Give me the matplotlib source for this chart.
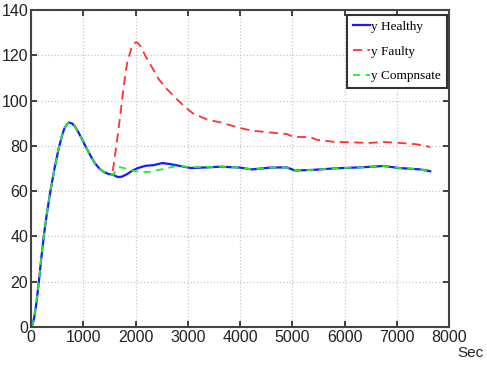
import matplotlib
matplotlib.use("Agg")
import matplotlib.pyplot as plt

# common response before the fault (all three signals identical)
t_common = [0, 30, 60, 100, 150, 200, 250, 300, 371, 450, 531, 600, 637, 690, 733, 790,
            842, 900, 968, 1030, 1096, 1160, 1224, 1300, 1383, 1480, 1575]
y_common = [0, 1, 4, 10, 20, 31, 41, 49.5, 60, 70, 79, 85, 87.6, 89.6, 90.3, 89.8,
            88.5, 86.3, 83.4, 80.4, 77.5, 74.8, 72.3, 70.2, 68.6, 67.6, 67.2]

# healthy response after the fault instant
t_healthy = [1575, 1625, 1670, 1740, 1830, 1936, 2035, 2192, 2350, 2512, 2650,
             2832, 3060, 3380, 3640, 4000, 4225, 4580, 4900, 5050, 5400, 5850,
             6290, 6750, 7050, 7450, 7640]
y_healthy = [67.2, 66.6, 66.2, 66.4, 67.4, 69.0, 70.1, 71.2, 71.5, 72.4, 72.0,
             71.2, 70.2, 70.5, 70.8, 70.4, 69.6, 70.4, 70.5, 69.1, 69.4, 70.1,
             70.5, 71.1, 70.2, 69.6, 68.8]

# faulty response
t_faulty = [1565, 1650, 1715, 1775, 1840, 1923, 1970, 2013, 2050, 2096, 2192, 2320,
            2448, 2608, 2768, 2928, 3100, 3385, 3620, 4000, 4225, 4900, 5020, 5340,
            5470, 5790, 6490, 6750, 7050, 7380, 7640]
y_faulty = [68.9, 82.9, 94.7, 106.4, 116.7, 123.3, 125.2, 125.8, 125.3, 124.0, 119.6,
            114.5, 109.3, 104.9, 101.2, 97.5, 94.3, 91.5, 90.4, 87.9, 86.7, 85.2, 83.9,
            83.9, 82.7, 81.8, 81.3, 81.7, 81.3, 80.7, 79.5]

# compensated response
t_comp = [1575, 1630, 1700, 1808, 1930, 2064, 2256, 2400, 2512, 2768, 3125, 3640,
          4000, 4225, 4580, 4900, 5050, 5400, 5850, 6290, 6750, 7050, 7450, 7640]
y_comp = [67.2, 69.6, 70.6, 70.0, 69.2, 68.5, 68.5, 69.2, 69.7, 71.0, 70.6, 70.8,
          70.4, 69.6, 70.4, 70.5, 69.1, 69.4, 70.1, 70.5, 71.1, 70.2, 69.6, 68.8]

x_ticks = [0, 1000, 2000, 3000, 4000, 5000, 6000, 7000, 8000]
y_ticks = [0, 20, 40, 60, 80, 100, 120, 140]

plt.rcParams["font.family"] = ["Liberation Sans", "DejaVu Sans"]

fig = plt.figure(figsize=(4.87, 3.67), dpi=100)
ax = fig.add_axes([31 / 487, 1 - 327 / 367, 418 / 487, 317 / 367])

ax.plot(t_common + t_healthy[1:], y_common + y_healthy[1:], color="#1a1aff",
        lw=1.6, label="y Healthy")
ax.plot(t_faulty, y_faulty, color="#ff3030", lw=1.3, ls=(0, (5, 3)), label="y Faulty")
ax.plot(t_common + t_comp[1:], y_common + y_comp[1:], color="#22ee22",
        lw=1.3, ls=(0, (4, 3)), label="y Compnsate")

ax.set_xlim(0, 8000)
ax.set_ylim(0, 140)
ax.set_xticks(x_ticks)
ax.set_yticks(y_ticks)
ax.tick_params(direction="in", top=True, right=True, length=4, width=1.2,
               labelsize=11.5, colors="#222222", pad=2)
ax.grid(True, ls=":", color="#c8c8c8", lw=0.9)
for sp in ax.spines.values():
    sp.set_color("#444444")
    sp.set_linewidth(1.5)

leg = ax.legend(loc="upper right", bbox_to_anchor=(0.995, 0.985), fancybox=False,
                prop={"family": "Liberation Serif", "size": 9.5}, handlelength=1.3,
                handletextpad=0.1, labelspacing=0.95, borderpad=0.45,
                borderaxespad=0.0, framealpha=1)
leg.get_frame().set_edgecolor("#333333")
leg.get_frame().set_linewidth(1.5)

fig.text(470 / 487, 1 - 353 / 367, "Sec", ha="center", va="center", fontsize=11,
         color="#222222")

fig.savefig("out.png", dpi=100)
